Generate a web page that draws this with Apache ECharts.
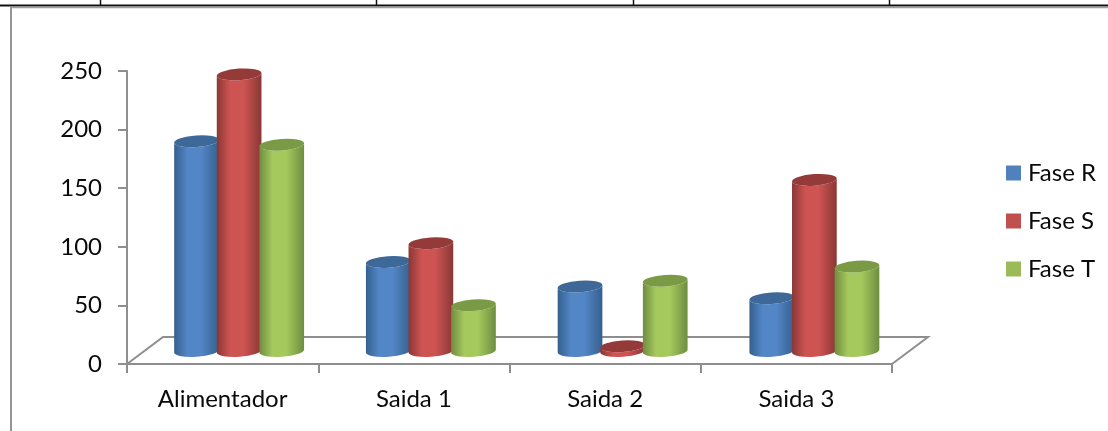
<!DOCTYPE html>
<html>
<head>
<meta charset="utf-8">
<style>html,body{margin:0;padding:0;background:#fff}#chart{width:1108px;height:431px}</style>
<script src="https://cdn.jsdelivr.net/npm/echarts@6/dist/echarts.min.js"></script>
</head>
<body>
<div id="chart"></div>
<script>
const categories = ['Alimentador', 'Saida 1', 'Saida 2', 'Saida 3'];
const faseR = [179, 76, 55, 45];
const faseS = [236, 92, 4, 146];
const faseT = [176, 39, 60, 72];
const phaseNames = ['Fase R', 'Fase S', 'Fase T'];

const palette = [
  { flat: '#4F81BD', edge: '#35608f', mid: '#5386c6', top: '#3d6897' },
  { flat: '#C0504D', edge: '#8a3735', mid: '#cd5452', top: '#943b39' },
  { flat: '#9BBB59', edge: '#6f8d40', mid: '#a6c95e', top: '#7b9a45' }
];

// Oblique projection of the floor depth, in pixels
const DEPTH_NEAR = { x: 16.5, y: -13 };
const DEPTH_FAR = { x: 36, y: -27 };
const PERSPECTIVE_DRIFT = 0.5;
const BAR_STEP = 42.6;
const RX = 22.4, RY = 5.8, TILT = 4;
const AXIS_GRAY = '#8e8e8e';

function cylinder(seriesIndex, params, api) {
  const colors = palette[seriesIndex];
  const base = api.coord([api.value(0), 0]);
  const peak = api.coord([api.value(0), api.value(1)]);
  const cx = base[0] + DEPTH_NEAR.x + api.value(0) * PERSPECTIVE_DRIFT + (seriesIndex - 1) * BAR_STEP;
  const by = base[1] + DEPTH_NEAR.y;
  const ty = peak[1] + DEPTH_NEAR.y;
  const rad = TILT * Math.PI / 180;
  const dx = RX * Math.cos(rad), dy = RX * Math.sin(rad);
  const arc = `A${RX} ${RY} ${-TILT} 0 1`;
  const body = `M${cx - dx} ${ty + dy} L${cx - dx} ${by + dy} ` +
    `A${RX} ${RY} ${-TILT} 0 0 ${cx + dx} ${by - dy} L${cx + dx} ${ty - dy} ` +
    `${arc} ${cx - dx} ${ty + dy} Z`;
  const lid = `M${cx - dx} ${ty + dy} ${arc} ${cx + dx} ${ty - dy} ${arc} ${cx - dx} ${ty + dy} Z`;
  return {
    type: 'group',
    children: [
      {
        type: 'path',
        shape: { pathData: body },
        style: {
          fill: new echarts.graphic.LinearGradient(0, 0, 1, 0, [
            { offset: 0, color: colors.edge },
            { offset: 0.3, color: colors.mid },
            { offset: 0.6, color: colors.mid },
            { offset: 1, color: colors.edge }
          ])
        }
      },
      { type: 'path', shape: { pathData: lid }, style: { fill: colors.top } }
    ]
  };
}

function floor(params, api) {
  const band = api.size([1, 0])[0];
  const first = api.coord([0, 0]);
  const last = api.coord([categories.length - 1, 0]);
  const x0 = first[0] - band / 2, x1 = last[0] + band / 2, y = first[1];
  return {
    type: 'polyline',
    shape: {
      points: [
        [x0, y],
        [x0 + DEPTH_FAR.x, y + DEPTH_FAR.y],
        [x1 + DEPTH_FAR.x, y + DEPTH_FAR.y],
        [x1, y]
      ]
    },
    style: { stroke: AXIS_GRAY, lineWidth: 2, fill: 'none' }
  };
}

function phaseSeries(index, values) {
  return {
    name: phaseNames[index],
    type: 'custom',
    coordinateSystem: 'cartesian2d',
    clip: false,
    itemStyle: { color: palette[index].flat },
    encode: { x: 0, y: 1 },
    data: values.map((v, i) => [i, v]),
    renderItem: (params, api) => cylinder(index, params, api)
  };
}

const textStyle = { fontFamily: 'Lato', fontSize: 24, color: '#0a0a0a' };

const chart = echarts.init(document.getElementById('chart'), null, { renderer: 'canvas' });
chart.setOption({
  animation: false,
  backgroundColor: '#fff',
  grid: { left: 127, right: 216, top: 71, bottom: 67 },
  legend: {
    data: phaseNames,
    orient: 'vertical',
    left: 1006,
    top: 160,
    padding: 0,
    icon: 'rect',
    itemWidth: 15,
    itemHeight: 15,
    itemGap: 22,
    textStyle: { ...textStyle, padding: [0, 0, 0, 2], lineHeight: 26 },
    selectedMode: false
  },
  xAxis: {
    type: 'category',
    data: categories,
    axisLine: { lineStyle: { color: AXIS_GRAY, width: 2 } },
    axisTick: { show: true, length: 9, lineStyle: { color: AXIS_GRAY, width: 2 } },
    axisLabel: { ...textStyle, margin: 23 }
  },
  yAxis: {
    type: 'value',
    min: 0,
    max: 250,
    interval: 50,
    splitLine: { show: false },
    axisLine: { show: true, lineStyle: { color: AXIS_GRAY, width: 2 } },
    axisTick: { show: true, length: 9, lineStyle: { color: AXIS_GRAY, width: 2 } },
    axisLabel: { ...textStyle, margin: 25 }
  },
  graphic: [
    // Table rules and the chart frame above and to the left of the plot
    { type: 'line', shape: { x1: 0, y1: 5.5, x2: 1108, y2: 5.5 }, style: { stroke: '#111', lineWidth: 2 } },
    { type: 'line', shape: { x1: 10, y1: 7.5, x2: 1108, y2: 7.5 }, style: { stroke: '#a0a0a0', lineWidth: 1.5 } },
    { type: 'line', shape: { x1: 11, y1: 7, x2: 11, y2: 431 }, style: { stroke: '#969696', lineWidth: 2 } },
    { type: 'line', shape: { x1: 100.5, y1: 0, x2: 100.5, y2: 5 }, style: { stroke: '#111', lineWidth: 1.5 } },
    { type: 'line', shape: { x1: 376.5, y1: 0, x2: 376.5, y2: 5 }, style: { stroke: '#111', lineWidth: 1.5 } },
    { type: 'line', shape: { x1: 633.5, y1: 0, x2: 633.5, y2: 5 }, style: { stroke: '#111', lineWidth: 1.5 } },
    { type: 'line', shape: { x1: 889.5, y1: 0, x2: 889.5, y2: 5 }, style: { stroke: '#111', lineWidth: 1.5 } }
  ],
  series: [
    {
      name: 'piso',
      type: 'custom',
      coordinateSystem: 'cartesian2d',
      clip: false,
      data: [[0, 0]],
      encode: { x: 0, y: 1 },
      renderItem: floor
    },
    phaseSeries(0, faseR),
    phaseSeries(1, faseS),
    phaseSeries(2, faseT)
  ]
});
</script>
</body>
</html>
